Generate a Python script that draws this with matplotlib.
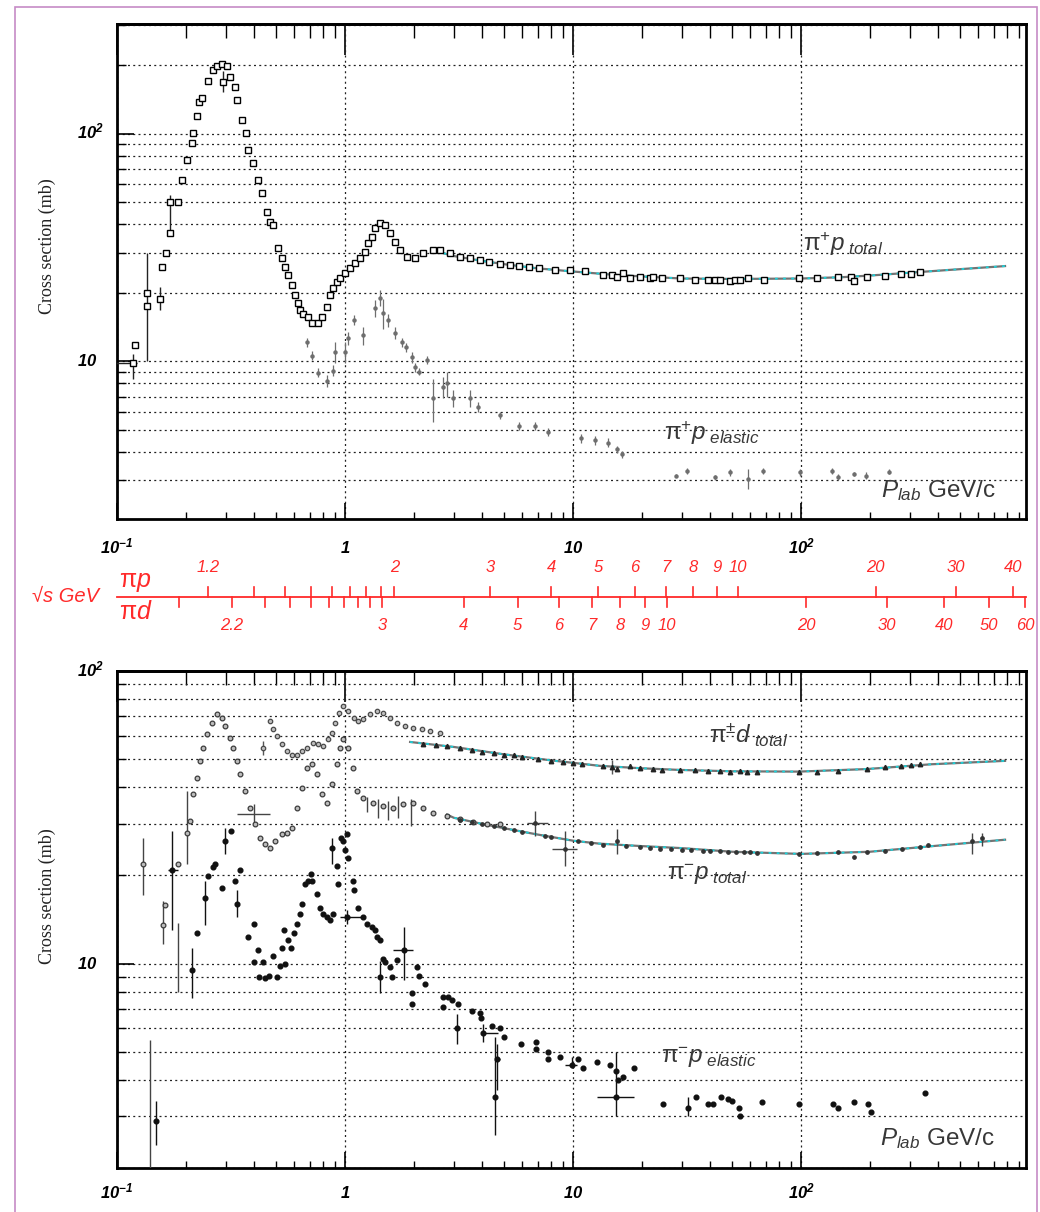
import numpy as np
import matplotlib
matplotlib.use('Agg')
import matplotlib.pyplot as plt
import matplotlib.transforms as mtrans
from matplotlib.ticker import LogLocator, NullFormatter
from matplotlib.patches import Rectangle

plt.rcParams['font.family'] = ['Liberation Sans', 'DejaVu Sans']
plt.rcParams['mathtext.fontset'] = 'custom'
plt.rcParams['mathtext.rm'] = 'Liberation Sans'
plt.rcParams['mathtext.it'] = 'Liberation Sans:italic'
plt.rcParams['mathtext.bf'] = 'Liberation Sans:italic:bold'
plt.rcParams['mathtext.sf'] = 'Liberation Sans'

# ---------------- data ----------------
# top panel: pi+ p total
pip_tot_p = [0.118, 0.120, 0.135, 0.135, 0.154, 0.158, 0.164, 0.171, 0.171, 0.185,
             0.193, 0.203, 0.213, 0.215, 0.224, 0.229, 0.236, 0.251, 0.263, 0.275,
             0.289, 0.292, 0.304, 0.313, 0.329, 0.336, 0.353, 0.368, 0.376, 0.395,
             0.415, 0.433, 0.455, 0.469, 0.483, 0.508, 0.529, 0.545, 0.561, 0.585,
             0.603, 0.622, 0.635, 0.655, 0.688, 0.720, 0.760, 0.793, 0.834, 0.860,
             0.885, 0.923, 0.952, 1.00, 1.05, 1.11, 1.16, 1.22, 1.26, 1.31,
             1.35, 1.42, 1.50, 1.57, 1.65, 1.74, 1.87, 2.03, 2.19, 2.43,
             2.61, 2.88, 3.19, 3.55, 3.90, 4.30, 4.80, 5.30, 5.80, 6.40,
             7.10, 8.30, 9.70, 11.3, 13.5, 14.8, 15.6, 16.6, 17.8, 19.7,
             21.8, 22.5, 24.6, 29.4, 34.3, 39.1, 42.0, 44.2, 48.8, 51.3,
             53.9, 58.4, 68.6, 98.0, 117, 145, 165, 171, 195, 233,
             275, 304, 331]
pip_tot_s = [9.8, 11.8, 19.9, 17.5, 18.8, 26.0, 30.0, 36.6, 50.0, 50.0,
             62.7, 76.8, 91.0, 101, 119, 137, 144, 170, 191, 198,
             202, 168, 198, 178, 160, 141, 115, 101, 85.0, 74.5,
             62.7, 55.0, 45.4, 41.0, 39.8, 31.5, 28.4, 26.0, 23.9, 21.6,
             19.5, 18.0, 16.8, 16.2, 15.6, 14.7, 14.7, 15.6, 17.3, 19.5,
             21.0, 22.3, 23.2, 24.5, 25.7, 27.0, 28.4, 30.2, 33.1, 35.2,
             38.6, 40.6, 39.8, 36.6, 33.4, 30.8, 28.8, 28.4, 29.8, 30.8,
             30.8, 29.8, 28.8, 28.4, 27.9, 27.3, 26.8, 26.5, 26.2, 26.0,
             25.7, 25.2, 25.2, 25.0, 23.9, 23.9, 23.4, 24.4, 23.2, 23.4,
             23.2, 23.4, 23.2, 23.2, 22.7, 22.7, 22.7, 22.7, 22.5, 22.7,
             22.7, 23.2, 22.7, 23.2, 23.2, 23.4, 23.4, 22.5, 23.4, 23.7,
             24.2, 24.2, 24.7]
pip_tot_err_p = [0.118, 0.135, 0.154, 0.171, 0.292]
pip_tot_err_s = [9.8, 19.9, 18.8, 45.0, 168]
pip_tot_err_lo = [1.4, 9.9, 2.0, 8.0, 15]
pip_tot_err_hi = [1.0, 10.1, 2.4, 9.0, 20]
pip_tot_err_xlo = [0.02, 0, 0, 0, 0]
pip_tot_err_xhi = [0.004, 0, 0, 0, 0]
pip_fit_p = [2.5, 3, 4, 5, 7, 10, 15, 20, 30, 50, 100, 150, 200, 300, 500, 785]
pip_fit_s = [30.5, 29.0, 27.6, 26.7, 25.6, 24.8, 24.0, 23.6, 23.1, 23.0, 23.1, 23.4, 23.8, 24.5, 25.4, 26.2]

# top panel: pi+ p elastic
pip_el_p = [0.681, 0.72, 0.76, 0.834, 0.885, 0.90, 1.0, 1.03, 1.10, 1.20,
            1.35, 1.42, 1.47, 1.54, 1.65, 1.78, 1.85, 1.97, 2.03, 2.12,
            2.28, 2.43, 2.70, 2.80, 2.97, 3.55, 3.84, 4.8, 5.8, 6.8,
            7.8, 10.8, 12.5, 14.2, 15.6, 16.4, 28.3, 31.6, 42, 48.8,
            58.4, 68, 99, 137, 145, 171, 193, 242]
pip_el_s = [12.1, 10.6, 8.9, 8.2, 9.1, 11.0, 11.0, 12.6, 15.2, 13.0,
            17.1, 19.0, 16.3, 15.2, 13.3, 12.1, 11.5, 10.4, 9.4, 9.0,
            10.1, 6.9, 7.7, 8.0, 6.9, 6.9, 6.3, 5.8, 5.2, 5.2,
            4.9, 4.6, 4.5, 4.4, 4.1, 3.9, 3.15, 3.3, 3.1, 3.25,
            3.05, 3.3, 3.25, 3.3, 3.1, 3.2, 3.15, 3.27]
pip_el_err = [0.6, 0.5, 0.4, 0.5, 0.5, 1.2, 1.2, 0.8, 0.8, 1.2,
              1.5, 1.5, 2.5, 1.0, 0.8, 0.5, 0.5, 0.6, 0.4, 0.3,
              0.4, 1.5, 0.8, 1.0, 0.6, 0.6, 0.3, 0.2, 0.2, 0.2,
              0.2, 0.2, 0.2, 0.2, 0.15, 0.15, 0.05, 0.1, 0.08, 0.1,
              0.3, 0.1, 0.1, 0.1, 0.1, 0.08, 0.1, 0.08]

# bottom panel: pi- p total
pim_tot_p = [0.130, 0.159, 0.162, 0.185, 0.203, 0.209, 0.215, 0.224, 0.231, 0.238,
             0.248, 0.261, 0.275, 0.289, 0.297, 0.313, 0.323, 0.336, 0.346, 0.364,
             0.383, 0.403, 0.424, 0.446, 0.469, 0.494, 0.529, 0.557, 0.585, 0.616,
             0.648, 0.681, 0.717, 0.754, 0.793, 0.834, 0.877, 0.923, 0.952, 0.981,
             1.03, 1.08, 1.13, 1.20, 1.33, 1.47, 1.62, 1.79, 1.98, 2.19,
             2.43, 2.79, 3.19, 3.63, 4.2, 4.8]
pim_tot_s = [21.9, 13.5, 15.8, 21.9, 28.0, 30.8, 38.0, 43.1, 49.3, 54.6,
             61.0, 66.5, 71.3, 69.2, 64.9, 59.0, 54.6, 49.3, 44.5, 38.9,
             34.1, 30.0, 26.9, 25.7, 24.9, 26.3, 27.8, 28.0, 29.1, 34.1,
             39.9, 46.7, 48.2, 44.5, 38.0, 35.4, 41.1, 48.2, 54.6, 58.6,
             54.6, 46.7, 38.9, 36.9, 35.4, 34.6, 34.1, 35.2, 35.4, 34.1,
             32.8, 32.0, 31.3, 30.5, 30.0, 30.0]
pim_tot_hi_p = [3.2, 3.6, 4.0, 4.5, 5.0, 5.5, 6.0, 6.8, 7.5, 8.0,
                9.2, 10.5, 12.0, 13.5, 15.6, 17.0, 19.7, 21.7, 24.0, 27.0,
                30, 33, 37, 40, 44, 48, 52, 56, 60, 64,
                98, 117, 145, 170, 195, 233, 276, 331, 360, 565, 620]
pim_tot_hi_s = [31.0, 30.5, 30.0, 29.5, 29.0, 28.5, 28.2, 30.3, 27.3, 27.0,
                24.7, 26.3, 25.8, 25.5, 26.3, 25.2, 25.0, 24.8, 24.6, 24.6,
                24.5, 24.4, 24.3, 24.3, 24.2, 24.1, 24.0, 24.0, 24.1, 23.9,
                23.7, 23.8, 24.0, 23.2, 24.1, 24.3, 24.6, 25.1, 25.4, 26.3, 26.8]
pim_tot_err_p = [0.14, 0.13, 0.159, 0.185, 0.203, 0.40, 1.25, 1.40, 1.55, 1.70, 1.95, 6.8, 9.2, 15.6, 565, 620]
pim_tot_err_s = [3.46, 21.9, 13.5, 10.9, 28.0, 32.5, 35.0, 34.0, 33.5, 34.5, 33.0, 30.3, 24.7, 26.3, 26.3, 26.8]
pim_tot_err_lo = [2.0, 4.8, 1.8, 2.9, 6.1, 2.5, 2.0, 2.5, 2.5, 3.0, 3.5, 3.0, 3.1, 2.6, 2.6, 1.5]
pim_tot_err_hi = [2.0, 5.0, 2.8, 2.9, 10.9, 2.5, 2.0, 2.5, 2.5, 3.0, 3.5, 3.0, 3.7, 2.6, 1.7, 1.2]
pim_tot_err_xlo = [0, 0, 0, 0, 0, 0.064, 0, 0, 0, 0, 0, 0.5, 1.1, 0, 0, 0]
pim_tot_err_xhi = [0, 0, 0, 0, 0, 0.069, 0, 0, 0, 0, 0, 1.0, 1.2, 0, 0, 0]
pim_fit_p = [2.8, 3, 4, 5, 7, 10, 13, 20, 30, 50, 100, 200, 400, 785]
pim_fit_s = [32.3, 31.5, 30.0, 29.0, 27.6, 26.3, 25.7, 25.2, 24.8, 24.1, 23.7, 24.1, 25.3, 26.5]

# bottom panel: pi- p elastic
pim_el_p = [0.148, 0.174, 0.213, 0.224, 0.243, 0.251, 0.263, 0.269, 0.289, 0.297,
            0.316, 0.329, 0.336, 0.346, 0.376, 0.398, 0.415, 0.398, 0.437, 0.420,
            0.446, 0.464, 0.483, 0.503, 0.519, 0.529, 0.540, 0.545, 0.561, 0.579,
            0.596, 0.616, 0.635, 0.648, 0.669, 0.689, 0.710, 0.720, 0.754, 0.780,
            0.800, 0.834, 0.860, 0.885, 0.877, 0.923, 0.932, 0.962, 0.981, 1.02,
            1.00, 1.03, 1.08, 1.09, 1.02, 1.14, 1.20, 1.25, 1.31, 1.35,
            1.38, 1.42, 1.47, 1.50, 1.42, 1.57, 1.60, 1.69, 1.81, 1.97,
            1.97, 2.07, 2.12, 2.24, 2.70, 2.70, 2.84, 2.94, 3.13, 3.09,
            3.60, 3.90, 3.94, 4.03, 4.42, 4.65, 4.55, 4.80, 4.96, 5.90,
            6.90, 6.90, 7.80, 7.80, 8.80, 9.90, 10.5, 11.1, 12.7, 14.6,
            15.5, 15.7, 16.5, 15.5, 18.5, 24.9, 32.0, 34.7, 39.0, 41.0,
            44.5, 48.0, 50.0, 53.5, 54.0, 67.6, 98.0, 138, 145, 171,
            197, 203, 350]
pim_el_s = [2.89, 20.8, 9.5, 12.7, 16.8, 19.9, 21.3, 21.9, 18.1, 26.3,
            28.4, 19.2, 16.0, 20.8, 12.3, 13.7, 11.1, 10.1, 10.1, 9.0,
            8.9, 9.1, 10.6, 9.0, 9.8, 11.3, 13.0, 10.0, 12.0, 11.3,
            12.7, 13.7, 14.8, 16.0, 18.7, 19.2, 20.3, 19.2, 17.3, 15.5,
            14.8, 14.4, 14.1, 14.8, 24.9, 21.6, 18.7, 26.9, 26.3, 27.8,
            24.4, 22.9, 19.2, 17.8, 14.4, 15.5, 14.4, 13.7, 13.3, 13.0,
            12.3, 12.0, 10.4, 10.1, 9.0, 9.7, 9.0, 10.3, 11.1, 7.9,
            7.3, 9.7, 9.1, 8.5, 7.7, 7.1, 7.7, 7.5, 7.3, 6.0,
            6.9, 6.8, 6.5, 5.8, 6.1, 4.7, 3.5, 6.0, 5.6, 5.3,
            5.4, 5.1, 5.0, 4.7, 4.8, 4.5, 4.7, 4.4, 4.6, 4.5,
            4.3, 4.0, 4.1, 3.5, 4.4, 3.3, 3.2, 3.5, 3.3, 3.3,
            3.5, 3.45, 3.4, 3.2, 3.0, 3.35, 3.3, 3.3, 3.2, 3.35,
            3.3, 3.1, 3.6]
pim_el_err_p = [0.148, 0.174, 0.213, 0.243, 0.297, 0.336, 0.877, 1.02, 1.42, 1.81, 3.09, 4.03, 4.65, 4.55, 9.9, 15.5, 32.0]
pim_el_err_s = [2.89, 20.8, 9.5, 16.8, 26.3, 16.0, 24.9, 14.4, 9.0, 11.1, 6.0, 5.8, 4.7, 3.5, 4.5, 3.5, 3.2]
pim_el_err_lo = [0.5, 7.8, 1.9, 3.3, 2.6, 1.6, 3.0, 0.8, 1.1, 2.3, 0.7, 0.4, 1.0, 0.9, 0.1, 0.5, 0.2]
pim_el_err_hi = [0.5, 7.6, 1.8, 2.4, 2.8, 1.8, 2.0, 0.8, 1.2, 2.2, 0.7, 0.4, 0.6, 2.1, 0.3, 1.5, 0.3]
pim_el_err_xlo = [0, 0.006, 0, 0, 0, 0, 0, 0.07, 0, 0.19, 0, 0.09, 0.1, 0, 0.7, 2.8, 0]
pim_el_err_xhi = [0, 0.011, 0, 0, 0, 0, 0, 0.18, 0, 0.17, 0, 0.67, 0.15, 0, 0.5, 3.1, 0]

# bottom panel: pi+- d total
pid_lo_p = [0.437, 0.469, 0.483, 0.503, 0.529, 0.557, 0.585, 0.616, 0.648, 0.681,
            0.725, 0.760, 0.800, 0.840, 0.877, 0.900, 0.940, 0.981, 1.03, 1.09,
            1.14, 1.20, 1.29, 1.38, 1.47, 1.57, 1.69, 1.83, 1.98, 2.17,
            2.36, 2.61]
pid_lo_s = [54.6, 67.5, 63.4, 60.0, 56.3, 53.3, 51.7, 51.7, 53.3, 54.6,
            56.8, 56.3, 55.5, 58.6, 61.4, 66.5, 71.9, 76.0, 73.2, 69.2,
            67.5, 68.5, 71.3, 73.2, 71.9, 69.2, 66.5, 64.9, 63.9, 63.4,
            62.4, 61.4]
pid_hi_p = [2.2, 2.5, 2.8, 3.2, 3.6, 4.0, 4.5, 5.0, 5.5, 6.0,
            7.0, 8.0, 9.0, 10.0, 11.0, 13.5, 14.8, 15.6, 17.8, 19.7,
            22.5, 24.6, 29.4, 34.3, 39.0, 44.0, 49.0, 54.0, 58.0, 64.0,
            98.0, 117, 145, 195, 233, 275, 304, 331]
pid_hi_s = [56.5, 56.0, 55.3, 54.5, 53.5, 53.0, 52.5, 51.8, 51.5, 50.8,
            50.0, 49.3, 48.8, 48.3, 48.0, 47.4, 47.0, 46.2, 47.2, 46.5,
            46.2, 46.0, 46.0, 45.7, 45.5, 45.6, 45.3, 45.5, 45.3, 45.2,
            45.3, 45.3, 45.6, 46.3, 46.8, 47.3, 47.7, 48.1]
pid_err_p = [0.437, 14.8]
pid_err_s = [54.6, 47.0]
pid_err_e = [3.0, 2.5]
pid_fit_p = [1.93, 3.0, 4.8, 8.0, 13.1, 20, 29.3, 50, 98, 193, 374, 785]
pid_fit_s = [57.2, 55.0, 52.1, 49.5, 47.4, 46.5, 45.9, 45.4, 45.3, 46.2, 48.0, 49.3]

# axis ticks / labels
xtick_vals = [0.1, 1, 10, 100]
xtick_text = [r'$\mathbf{10^{-1}}$', r'$\mathbf{1}$', r'$\mathbf{10}$', r'$\mathbf{10^{2}}$']
ytick_vals = [10, 100]
ytick_text = [r'$\mathbf{10}$', r'$\mathbf{10^{2}}$']

# sqrt(s) scale (GeV)
sqs_pip_ticks = [1.2, 1.3, 1.4, 1.5, 1.6, 1.7, 1.8, 1.9, 2, 3, 4, 5, 6, 7, 8, 9, 10, 20, 30, 40]
sqs_pip_labels = ['1.2', '', '', '', '', '', '', '', '2', '3', '4', '5', '6', '7', '8', '9', '10', '20', '30', '40']
sqs_pid_ticks = [2.1, 2.2, 2.3, 2.4, 2.5, 2.6, 2.7, 2.8, 2.9, 3, 4, 5, 6, 7, 8, 9, 10, 20, 30, 40, 50, 60]
sqs_pid_labels = ['', '2.2', '', '', '', '', '', '', '', '3', '4', '5', '6', '7', '8', '9', '10', '20', '30', '40', '50', '60']
M_PI, M_P, M_D = 0.13957, 0.93827, 1.87561


def plab(sqrt_s, m_target):
    s = np.asarray(sqrt_s, dtype=float) ** 2
    e = (s - M_PI ** 2 - m_target ** 2) / (2 * m_target)
    return np.sqrt(e ** 2 - M_PI ** 2)


# ---------------- figure ----------------
W, H = 1040, 1212
fig = plt.figure(figsize=(W / 100, H / 100), dpi=100)


def fx(x):
    return x / W


def fy(y):
    return 1 - y / H


XLIM = (0.1, 970)
GRID = dict(color='#222222', lw=0.9, ls=(0, (1.6, 2.6)))
TXT = '#383838'


def style_axes(ax, ylim, ylab_vals, ylab_txt, xlab_off):
    ax.set_xscale('log')
    ax.set_yscale('log')
    ax.set_xlim(*XLIM)
    ax.set_ylim(*ylim)
    ax.set_axisbelow(True)
    for sp in ax.spines.values():
        sp.set_linewidth(2.0)
    for axis in (ax.xaxis, ax.yaxis):
        axis.set_major_locator(LogLocator(base=10, numticks=12))
        axis.set_minor_locator(LogLocator(base=10, subs=np.arange(2, 10), numticks=40))
        axis.set_minor_formatter(NullFormatter())
        axis.set_major_formatter(NullFormatter())
    ax.tick_params(axis='x', which='both', direction='in', bottom=True, top=False)
    ax.tick_params(axis='x', which='major', length=11.5, width=1.2)
    ax.tick_params(axis='x', which='minor', length=5, width=1.0)
    ax.tick_params(axis='y', which='both', direction='in', left=True, right=False)
    ax.tick_params(axis='y', which='major', length=12.5, width=1.2)
    ax.tick_params(axis='y', which='minor', length=6.5, width=1.0)
    ax.grid(True, axis='y', which='both', **GRID)
    ax.grid(True, axis='x', which='major', **GRID)
    sec = ax.secondary_xaxis('top')
    sec.xaxis.set_major_locator(LogLocator(base=10, numticks=12))
    sec.xaxis.set_minor_locator(LogLocator(base=10, subs=np.arange(2, 10), numticks=40))
    sec.xaxis.set_major_formatter(NullFormatter())
    sec.xaxis.set_minor_formatter(NullFormatter())
    sec.tick_params(which='both', direction='in')
    sec.tick_params(which='major', length=22, width=1.2)
    sec.tick_params(which='minor', length=10, width=1.0)
    sec.spines['top'].set_linewidth(2.0)
    tx = mtrans.offset_copy(ax.get_xaxis_transform(), fig=fig, x=0, y=-xlab_off, units='dots')
    for v, t in zip(xtick_vals, xtick_text):
        ax.text(v, 0, t, transform=tx, ha='center', va='baseline', fontsize=12, color='black')
    for v, t in zip(ylab_vals, ylab_txt):
        off = -13 if '^' in t else -20
        ty = mtrans.offset_copy(ax.get_yaxis_transform(), fig=fig, x=off, y=-5, units='dots')
        ax.text(0, v, t, transform=ty, ha='right', va='baseline', fontsize=12, color='black')


def fitline(ax, p, s):
    ax.plot(p, s, color='#5a5a5a', lw=1.6, alpha=0.85, zorder=3)
    ax.plot(p, s, color='#19d3dc', lw=1.3, ls=(0, (1.5, 3)), zorder=4)


# ---- top panel ----
ax1 = fig.add_axes([fx(117), fy(519), (1026 - 117) / W, (519 - 24) / H])
style_axes(ax1, (2.03, 303), ytick_vals, ytick_text, 34)
fitline(ax1, pip_fit_p, pip_fit_s)
ax1.errorbar(pip_el_p, pip_el_s, yerr=pip_el_err, fmt='o', ms=2.2, color='#6e6e6e',
             elinewidth=0.9, capsize=0, zorder=5)
ax1.errorbar(pip_tot_err_p, pip_tot_err_s, yerr=[pip_tot_err_lo, pip_tot_err_hi],
             xerr=[pip_tot_err_xlo, pip_tot_err_xhi], fmt='none', ecolor='#222222',
             elinewidth=1.0, capsize=0, zorder=5)
ax1.plot(pip_tot_p, pip_tot_s, ls='none', marker='s', ms=3.8, mfc='white', mec='black',
         mew=1.0, zorder=6)

# ---- bottom panel ----
ax2 = fig.add_axes([fx(117), fy(1168), (1026 - 117) / W, (1168 - 671) / H])
style_axes(ax2, (2.0, 100), ytick_vals, ytick_text, 30)
fitline(ax2, pid_fit_p, pid_fit_s)
fitline(ax2, pim_fit_p, pim_fit_s)
ax2.errorbar(pid_err_p, pid_err_s, yerr=pid_err_e, fmt='none', ecolor='#555555',
             elinewidth=1.0, capsize=0, zorder=5)
ax2.plot(pid_lo_p, pid_lo_s, ls='none', marker='o', ms=3.2, mfc='#bdbdbd', mec='#4a4a4a',
         mew=0.9, zorder=6)
ax2.plot(pid_hi_p, pid_hi_s, ls='none', marker='^', ms=3.2, color='#222222', zorder=6)
ax2.errorbar(pim_tot_err_p, pim_tot_err_s, yerr=[pim_tot_err_lo, pim_tot_err_hi],
             xerr=[pim_tot_err_xlo, pim_tot_err_xhi], fmt='none', ecolor='#444444',
             elinewidth=1.0, capsize=0, zorder=5)
ax2.plot(pim_tot_p, pim_tot_s, ls='none', marker='o', ms=3.4, mfc='#bdbdbd', mec='#3a3a3a',
         mew=0.9, zorder=6)
ax2.plot(pim_tot_hi_p, pim_tot_hi_s, ls='none', marker='o', ms=2.4, color='#333333', zorder=6)
ax2.errorbar(pim_el_err_p, pim_el_err_s, yerr=[pim_el_err_lo, pim_el_err_hi],
             xerr=[pim_el_err_xlo, pim_el_err_xhi], fmt='none', ecolor='#111111',
             elinewidth=1.0, capsize=0, zorder=5)
ax2.plot(pim_el_p, pim_el_s, ls='none', marker='o', ms=3.4, color='#111111', zorder=6)

# ---- sqrt(s) scale ----
RED = '#ff2a2a'
sax = fig.add_axes([fx(117), fy(650), (1026 - 117) / W, 100 / H])
sax.set_xscale('log')
sax.set_xlim(*XLIM)
sax.axis('off')
tr = mtrans.blended_transform_factory(sax.transData, fig.transFigure)
tra = mtrans.blended_transform_factory(sax.transAxes, fig.transFigure)
sax.plot([0, 1], [fy(597), fy(597)], transform=tra, color=RED, lw=1.3, clip_on=False)
for v, lab in zip(sqs_pip_ticks, sqs_pip_labels):
    p = float(plab(v, M_P))
    sax.plot([p, p], [fy(597), fy(587)], transform=tr, color=RED, lw=1.2, clip_on=False)
    if lab:
        sax.text(p, fy(568), lab, transform=tr, ha='center', va='center', color=RED,
                 fontsize=12, style='italic')
for v, lab in zip(sqs_pid_ticks, sqs_pid_labels):
    p = float(plab(v, M_D))
    sax.plot([p, p], [fy(597), fy(607)], transform=tr, color=RED, lw=1.2, clip_on=False)
    if lab:
        sax.text(p, fy(625), lab, transform=tr, ha='center', va='center', color=RED,
                 fontsize=12, style='italic')
fig.text(fx(32), fy(597), '√s GeV', color=RED, fontsize=14.5, style='italic',
         ha='left', va='center', family=['Liberation Sans', 'DejaVu Sans'])
fig.text(fx(119), fy(587), r'$\mathrm{\pi}p$', color=RED, fontsize=18, ha='left', va='baseline')
fig.text(fx(119), fy(619), r'$\mathrm{\pi}d$', color=RED, fontsize=18, ha='left', va='baseline')

# ---- annotations ----
LBL = dict(color=TXT, fontsize=17.5, ha='left', va='baseline')
fig.text(fx(803), fy(251), r'$\mathrm{\pi}^{+}p_{\ total}$', **LBL)
fig.text(fx(664), fy(440), r'$\mathrm{\pi}^{+}p_{\ elastic}$', **LBL)
fig.text(fx(881), fy(497), r'$P_{lab}\ \mathrm{GeV/c}$', **LBL)
fig.text(fx(709), fy(743), r'$\mathrm{\pi}^{\pm}d_{\ total}$', **LBL)
fig.text(fx(667), fy(880), r'$\mathrm{\pi}^{-}p_{\ total}$', **LBL)
fig.text(fx(661), fy(1063), r'$\mathrm{\pi}^{-}p_{\ elastic}$', **LBL)
fig.text(fx(880), fy(1145), r'$P_{lab}\ \mathrm{GeV/c}$', **LBL)

for yc in (246, 896):
    fig.text(fx(47), fy(yc), 'Cross section (mb)', rotation=90, ha='center', va='center',
             family='Liberation Serif', fontsize=13, color='#222222')

fig.patches.append(Rectangle((fx(15), fy(1216)), (1037 - 15) / W, (1216 - 7) / H,
                             transform=fig.transFigure, fill=False, ec='#c68bc6', lw=1.2))

fig.savefig('out.png', dpi=100)
